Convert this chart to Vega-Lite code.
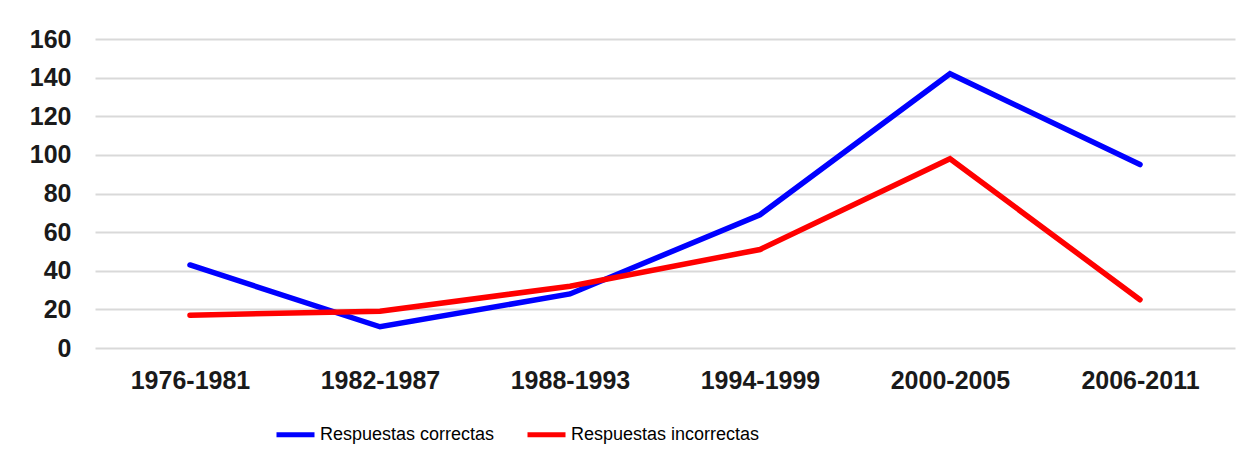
{
  "$schema": "https://vega.github.io/schema/vega-lite/v6.json",
  "width": 1140,
  "height": 309,
  "autosize": {"type": "none"},
  "padding": {"left": 95, "top": 39, "right": 21, "bottom": 115},
  "background": "white",
  "config": {"view": {"stroke": null}},
  "data": {
    "values": [
      {"periodo": "1976-1981", "serie": "Respuestas correctas", "valor": 43},
      {"periodo": "1982-1987", "serie": "Respuestas correctas", "valor": 11},
      {"periodo": "1988-1993", "serie": "Respuestas correctas", "valor": 28},
      {"periodo": "1994-1999", "serie": "Respuestas correctas", "valor": 69},
      {"periodo": "2000-2005", "serie": "Respuestas correctas", "valor": 142},
      {"periodo": "2006-2011", "serie": "Respuestas correctas", "valor": 95},
      {"periodo": "1976-1981", "serie": "Respuestas incorrectas", "valor": 17},
      {"periodo": "1982-1987", "serie": "Respuestas incorrectas", "valor": 19},
      {"periodo": "1988-1993", "serie": "Respuestas incorrectas", "valor": 32},
      {"periodo": "1994-1999", "serie": "Respuestas incorrectas", "valor": 51},
      {"periodo": "2000-2005", "serie": "Respuestas incorrectas", "valor": 98},
      {"periodo": "2006-2011", "serie": "Respuestas incorrectas", "valor": 25}
    ]
  },
  "mark": {"type": "line", "strokeWidth": 5.5, "strokeCap": "round", "strokeJoin": "miter"},
  "encoding": {
    "x": {
      "field": "periodo", "type": "ordinal", "title": null,
      "scale": {"type": "point", "padding": 0.5},
      "axis": {
        "labelAngle": 0, "domain": false, "ticks": false, "grid": false,
        "labelFont": "Liberation Sans", "labelFontWeight": "bold", "labelFontSize": 25,
        "labelColor": "#1a1a1a", "labelPadding": 20
      }
    },
    "y": {
      "field": "valor", "type": "quantitative", "title": null,
      "scale": {"domain": [0, 160], "nice": false},
      "axis": {
        "values": [0, 20, 40, 60, 80, 100, 120, 140, 160],
        "domain": false, "ticks": false, "grid": true,
        "gridColor": "#d9d9d9", "gridWidth": 2,
        "labelFont": "Liberation Sans", "labelFontWeight": "bold", "labelFontSize": 25,
        "labelColor": "#1a1a1a", "labelPadding": 24
      }
    },
    "color": {
      "field": "serie", "type": "nominal", "title": null,
      "scale": {"domain": ["Respuestas correctas", "Respuestas incorrectas"], "range": ["#0000ff", "#ff0000"]},
      "legend": {
        "orient": "none", "direction": "horizontal",
        "legendX": 179, "legendY": 374,
        "symbolType": "stroke", "symbolSize": 1444, "symbolStrokeWidth": 5,
        "labelFont": "Liberation Sans", "labelFontSize": 18, "labelColor": "#000000",
        "labelOffset": 3, "columnPadding": 22, "labelLimit": 400
      }
    }
  }
}
